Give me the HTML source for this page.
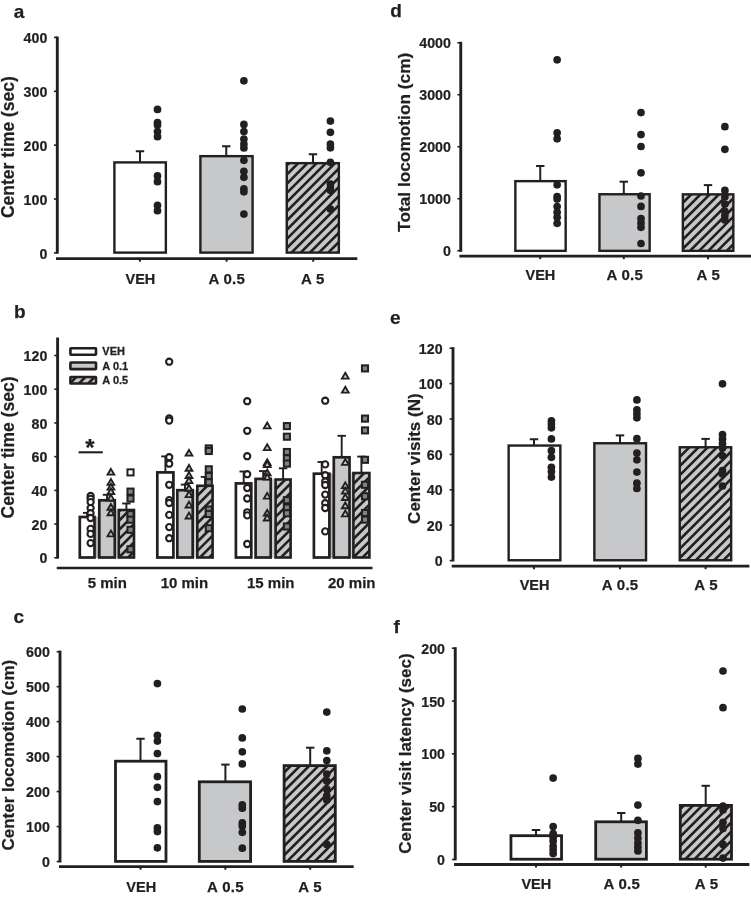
<!DOCTYPE html>
<html lang="en">
<head>
<meta charset="utf-8">
<title>Figure</title>
<style>
html,body{margin:0;padding:0;background:#fff;}
body{width:751px;height:897px;overflow:hidden;}
svg{display:block;}
svg text{font-family:'Liberation Sans', Arial, Helvetica, sans-serif;font-weight:bold;fill:#231f20;stroke:#231f20;stroke-width:0.25px;}
</style>
</head>
<body>
<svg width="751" height="897" viewBox="0 0 751 897">
<defs>
<clipPath id="k0"><rect x="286.75" y="163.15" width="52.1" height="89.45"/></clipPath>
<clipPath id="k1"><rect x="70.4" y="377" width="25.6" height="6.5"/></clipPath>
<clipPath id="k2"><rect x="118.8" y="510" width="15.2" height="47.5"/></clipPath>
<clipPath id="k3"><rect x="197.3" y="485.8" width="15.3" height="71.7"/></clipPath>
<clipPath id="k4"><rect x="275.6" y="479.5" width="15" height="78"/></clipPath>
<clipPath id="k5"><rect x="353.4" y="473" width="16" height="84.5"/></clipPath>
<clipPath id="k6"><rect x="284.1" y="765.6" width="51.2" height="95.8"/></clipPath>
<clipPath id="k7"><rect x="682.85" y="194.35" width="50.5" height="56.5"/></clipPath>
<clipPath id="k8"><rect x="679.75" y="447.25" width="51.4" height="113"/></clipPath>
<clipPath id="k9"><rect x="680.3" y="805.4" width="51.2" height="53.8"/></clipPath>
</defs>
<rect x="0" y="0" width="751" height="897" fill="#fff"/>
<text font-size="19" text-anchor="start" transform="translate(13.8 18.1) scale(1.0 1)">a</text>
<line x1="57.3" y1="36.6" x2="57.3" y2="253.6" stroke="#231f20" stroke-width="2.9" stroke-linecap="butt"/>
<line x1="53.95" y1="37.4" x2="57.3" y2="37.4" stroke="#231f20" stroke-width="1.6" stroke-linecap="butt"/>
<text font-size="15.3" text-anchor="end" transform="translate(47.3 43) scale(0.93 1)">400</text>
<line x1="53.95" y1="91.28" x2="57.3" y2="91.28" stroke="#231f20" stroke-width="1.6" stroke-linecap="butt"/>
<text font-size="15.3" text-anchor="end" transform="translate(47.3 96.88) scale(0.93 1)">300</text>
<line x1="53.95" y1="145.15" x2="57.3" y2="145.15" stroke="#231f20" stroke-width="1.6" stroke-linecap="butt"/>
<text font-size="15.3" text-anchor="end" transform="translate(47.3 150.75) scale(0.93 1)">200</text>
<line x1="53.95" y1="199.03" x2="57.3" y2="199.03" stroke="#231f20" stroke-width="1.6" stroke-linecap="butt"/>
<text font-size="15.3" text-anchor="end" transform="translate(47.3 204.62) scale(0.93 1)">100</text>
<line x1="53.95" y1="252.9" x2="57.3" y2="252.9" stroke="#231f20" stroke-width="1.6" stroke-linecap="butt"/>
<text font-size="15.3" text-anchor="end" transform="translate(47.3 258.5) scale(0.93 1)">0</text>
<line x1="56" y1="258.7" x2="357.3" y2="258.7" stroke="#231f20" stroke-width="2.8" stroke-linecap="butt"/>
<line x1="139.9" y1="258.7" x2="139.9" y2="261.75" stroke="#231f20" stroke-width="2" stroke-linecap="butt"/>
<line x1="226.6" y1="258.7" x2="226.6" y2="261.75" stroke="#231f20" stroke-width="2" stroke-linecap="butt"/>
<line x1="313.2" y1="258.7" x2="313.2" y2="261.75" stroke="#231f20" stroke-width="2" stroke-linecap="butt"/>
<text font-size="17.5" text-anchor="middle" transform="translate(14.2 147.1) rotate(-90) scale(1.0 1)">Center time (sec)</text>
<text font-size="15" text-anchor="middle" transform="translate(140.4 283.6) scale(0.965 1)">VEH</text>
<text font-size="15" text-anchor="middle" transform="translate(226.8 283.6) scale(1.0 1)" letter-spacing="0.3">A 0.5</text>
<text font-size="15" text-anchor="middle" transform="translate(312.8 283.6) scale(1.0 1)" letter-spacing="0.3">A 5</text>
<rect x="114.4" y="162.4" width="51.45" height="90.2" fill="#fff" stroke="#231f20" stroke-width="2.4"/>
<rect x="200.4" y="156.15" width="52.2" height="96.45" fill="#c7c8ca" stroke="#231f20" stroke-width="2.4"/>
<rect x="286.75" y="163.15" width="52.1" height="89.45" fill="#c7c8ca"/>
<path d="M284.55 167.66L341.05 111.16M284.55 176.85L341.05 120.35M284.55 186.04L341.05 129.54M284.55 195.23L341.05 138.73M284.55 204.42L341.05 147.92M284.55 213.61L341.05 157.11M284.55 222.8L341.05 166.3M284.55 231.99L341.05 175.49M284.55 241.18L341.05 184.68M284.55 250.37L341.05 193.87M284.55 259.56L341.05 203.06M284.55 268.75L341.05 212.25M284.55 277.94L341.05 221.44M284.55 287.13L341.05 230.63M284.55 296.32L341.05 239.82M284.55 305.51L341.05 249.01" stroke="#231f20" stroke-width="2.6" fill="none" clip-path="url(#k0)"/>
<rect x="286.75" y="163.15" width="52.1" height="89.45" fill="none" stroke="#231f20" stroke-width="2.4"/>
<line x1="140" y1="151.25" x2="140" y2="162.25" stroke="#231f20" stroke-width="2" stroke-linecap="butt"/>
<line x1="135.8" y1="151.25" x2="144.2" y2="151.25" stroke="#231f20" stroke-width="2" stroke-linecap="butt"/>
<line x1="226.25" y1="146.25" x2="226.25" y2="156" stroke="#231f20" stroke-width="2" stroke-linecap="butt"/>
<line x1="222.05" y1="146.25" x2="230.45" y2="146.25" stroke="#231f20" stroke-width="2" stroke-linecap="butt"/>
<line x1="313" y1="154.25" x2="313" y2="163" stroke="#231f20" stroke-width="2" stroke-linecap="butt"/>
<line x1="308.8" y1="154.25" x2="317.2" y2="154.25" stroke="#231f20" stroke-width="2" stroke-linecap="butt"/>
<circle cx="157.5" cy="109.4" r="3.85" fill="#231f20"/>
<circle cx="157.5" cy="122.6" r="3.85" fill="#231f20"/>
<circle cx="157.5" cy="125.1" r="3.85" fill="#231f20"/>
<circle cx="157.5" cy="131.6" r="3.85" fill="#231f20"/>
<circle cx="157.5" cy="136.7" r="3.85" fill="#231f20"/>
<circle cx="157.5" cy="175.9" r="3.85" fill="#231f20"/>
<circle cx="157.5" cy="181.7" r="3.85" fill="#231f20"/>
<circle cx="157.5" cy="205.3" r="3.85" fill="#231f20"/>
<circle cx="157.5" cy="210.7" r="3.85" fill="#231f20"/>
<circle cx="243.9" cy="80.8" r="3.85" fill="#231f20"/>
<circle cx="243.9" cy="124.4" r="3.85" fill="#231f20"/>
<circle cx="243.9" cy="131.5" r="3.85" fill="#231f20"/>
<circle cx="243.9" cy="139" r="3.85" fill="#231f20"/>
<circle cx="243.9" cy="144" r="3.85" fill="#231f20"/>
<circle cx="243.9" cy="148" r="3.85" fill="#231f20"/>
<circle cx="243.9" cy="160.3" r="3.85" fill="#231f20"/>
<circle cx="243.9" cy="171.3" r="3.85" fill="#231f20"/>
<circle cx="243.9" cy="177.3" r="3.85" fill="#231f20"/>
<circle cx="243.9" cy="188.8" r="3.85" fill="#231f20"/>
<circle cx="243.9" cy="191.8" r="3.85" fill="#231f20"/>
<circle cx="243.9" cy="214.05" r="3.85" fill="#231f20"/>
<circle cx="330.4" cy="121.05" r="3.85" fill="#231f20"/>
<circle cx="330.4" cy="132.3" r="3.85" fill="#231f20"/>
<circle cx="330.4" cy="144.05" r="3.85" fill="#231f20"/>
<circle cx="330.4" cy="147.8" r="3.85" fill="#231f20"/>
<circle cx="330.4" cy="162.3" r="3.85" fill="#231f20"/>
<circle cx="330.4" cy="184.05" r="3.85" fill="#231f20"/>
<circle cx="330.4" cy="187.8" r="3.85" fill="#231f20"/>
<circle cx="330.4" cy="190.3" r="3.85" fill="#231f20"/>
<circle cx="330.4" cy="209.05" r="3.85" fill="#231f20"/>
<text font-size="19" text-anchor="start" transform="translate(14 318) scale(1.0 1)">b</text>
<line x1="57.6" y1="337.5" x2="57.6" y2="558.6" stroke="#231f20" stroke-width="2.9" stroke-linecap="butt"/>
<line x1="54.25" y1="355.5" x2="57.6" y2="355.5" stroke="#231f20" stroke-width="1.6" stroke-linecap="butt"/>
<text font-size="15.3" text-anchor="end" transform="translate(47.3 361.1) scale(0.93 1)">120</text>
<line x1="54.25" y1="389.22" x2="57.6" y2="389.22" stroke="#231f20" stroke-width="1.6" stroke-linecap="butt"/>
<text font-size="15.3" text-anchor="end" transform="translate(47.3 394.82) scale(0.93 1)">100</text>
<line x1="54.25" y1="422.93" x2="57.6" y2="422.93" stroke="#231f20" stroke-width="1.6" stroke-linecap="butt"/>
<text font-size="15.3" text-anchor="end" transform="translate(47.3 428.53) scale(0.93 1)">80</text>
<line x1="54.25" y1="456.65" x2="57.6" y2="456.65" stroke="#231f20" stroke-width="1.6" stroke-linecap="butt"/>
<text font-size="15.3" text-anchor="end" transform="translate(47.3 462.25) scale(0.93 1)">60</text>
<line x1="54.25" y1="490.37" x2="57.6" y2="490.37" stroke="#231f20" stroke-width="1.6" stroke-linecap="butt"/>
<text font-size="15.3" text-anchor="end" transform="translate(47.3 495.97) scale(0.93 1)">40</text>
<line x1="54.25" y1="524.08" x2="57.6" y2="524.08" stroke="#231f20" stroke-width="1.6" stroke-linecap="butt"/>
<text font-size="15.3" text-anchor="end" transform="translate(47.3 529.68) scale(0.93 1)">20</text>
<line x1="54.25" y1="557.8" x2="57.6" y2="557.8" stroke="#231f20" stroke-width="1.6" stroke-linecap="butt"/>
<text font-size="15.3" text-anchor="end" transform="translate(47.3 563.4) scale(0.93 1)">0</text>
<line x1="56.7" y1="568.1" x2="372.5" y2="568.1" stroke="#231f20" stroke-width="2.5" stroke-linecap="butt"/>
<text font-size="17.5" text-anchor="middle" transform="translate(14.2 447.5) rotate(-90) scale(1.0 1)">Center time (sec)</text>
<text font-size="15" text-anchor="middle" transform="translate(107.25 588.3) scale(1.0 1)">5 min</text>
<text font-size="15" text-anchor="middle" transform="translate(184.4 588.3) scale(1.0 1)">10 min</text>
<text font-size="15" text-anchor="middle" transform="translate(270.75 588.3) scale(1.0 1)">15 min</text>
<text font-size="15" text-anchor="middle" transform="translate(351.75 588.3) scale(1.0 1)">20 min</text>
<rect x="70.4" y="348.2" width="25.6" height="6.5" rx="0.6" fill="#fff" stroke="#231f20" stroke-width="2.6" stroke-linejoin="round"/>
<rect x="70.4" y="362.5" width="25.6" height="6.6" rx="0.6" fill="#c7c8ca" stroke="#231f20" stroke-width="2.6" stroke-linejoin="round"/>
<rect x="70.4" y="377" width="25.6" height="6.5" fill="#c7c8ca"/>
<path d="M68.1 375.97L98.3 345.77M68.1 385.16L98.3 354.96M68.1 394.35L98.3 364.15M68.1 403.54L98.3 373.34M68.1 412.73L98.3 382.53" stroke="#231f20" stroke-width="2.6" fill="none" clip-path="url(#k1)"/>
<rect x="70.4" y="377" width="25.6" height="6.5" fill="none" stroke="#231f20" stroke-width="2.6" rx="0.6" stroke-linejoin="round"/>
<text font-size="10.3" text-anchor="start" transform="translate(102.3 354.9) scale(1.07 1)">VEH</text>
<text font-size="10.3" text-anchor="start" transform="translate(102.3 369.6) scale(1.07 1)">A 0.1</text>
<text font-size="10.3" text-anchor="start" transform="translate(102.3 383.9) scale(1.07 1)">A 0.5</text>
<text font-size="24" text-anchor="middle" transform="translate(90 456.3) scale(1.0 1)">*</text>
<line x1="78.6" y1="452.3" x2="102.8" y2="452.3" stroke="#231f20" stroke-width="2.1" stroke-linecap="butt"/>
<rect x="115" y="509.6" width="3.6" height="48.3" fill="#cfd0d2"/>
<rect x="94.7" y="516.6" width="4.4" height="41.3" fill="#b4b5b7"/>
<rect x="79.8" y="517" width="14.7" height="40.5" fill="#fff" stroke="#231f20" stroke-width="2.7"/>
<rect x="99.3" y="500.3" width="15.5" height="57.2" fill="#c7c8ca" stroke="#231f20" stroke-width="2.7"/>
<rect x="118.8" y="510" width="15.2" height="47.5" fill="#c7c8ca"/>
<path d="M116.5 513.92L136.3 494.12M116.5 523.11L136.3 503.31M116.5 532.3L136.3 512.5M116.5 541.49L136.3 521.69M116.5 550.68L136.3 530.88M116.5 559.87L136.3 540.07M116.5 569.06L136.3 549.26M116.5 578.25L136.3 558.45" stroke="#231f20" stroke-width="2.6" fill="none" clip-path="url(#k2)"/>
<rect x="118.8" y="510" width="15.2" height="47.5" fill="none" stroke="#231f20" stroke-width="2.6"/>
<line x1="87.1" y1="512.9" x2="87.1" y2="516.8" stroke="#231f20" stroke-width="1.9" stroke-linecap="butt"/>
<line x1="82.9" y1="512.9" x2="91.3" y2="512.9" stroke="#231f20" stroke-width="1.9" stroke-linecap="butt"/>
<line x1="107" y1="494.8" x2="107" y2="500.1" stroke="#231f20" stroke-width="1.9" stroke-linecap="butt"/>
<line x1="102.8" y1="494.8" x2="111.2" y2="494.8" stroke="#231f20" stroke-width="1.9" stroke-linecap="butt"/>
<line x1="126.4" y1="503.5" x2="126.4" y2="509.8" stroke="#231f20" stroke-width="1.9" stroke-linecap="butt"/>
<line x1="122.2" y1="503.5" x2="130.6" y2="503.5" stroke="#231f20" stroke-width="1.9" stroke-linecap="butt"/>
<circle cx="90.6" cy="496" r="3.1" fill="#fff" stroke="#231f20" stroke-width="2.1"/>
<circle cx="90.6" cy="498.8" r="3.1" fill="#fff" stroke="#231f20" stroke-width="2.1"/>
<circle cx="90.6" cy="502.1" r="3.1" fill="#fff" stroke="#231f20" stroke-width="2.1"/>
<circle cx="90.6" cy="508.1" r="3.1" fill="#fff" stroke="#231f20" stroke-width="2.1"/>
<circle cx="90.6" cy="513.2" r="3.1" fill="#fff" stroke="#231f20" stroke-width="2.1"/>
<circle cx="90.6" cy="518" r="3.1" fill="#fff" stroke="#231f20" stroke-width="2.1"/>
<circle cx="90.6" cy="528.9" r="3.1" fill="#fff" stroke="#231f20" stroke-width="2.1"/>
<circle cx="90.6" cy="533.9" r="3.1" fill="#fff" stroke="#231f20" stroke-width="2.1"/>
<circle cx="90.6" cy="543.1" r="3.1" fill="#fff" stroke="#231f20" stroke-width="2.1"/>
<path d="M110.9 468.84L114.29 474.68L107.51 474.68Z" fill="#c7c8ca" stroke="#231f20" stroke-width="1.85" stroke-linejoin="miter"/>
<path d="M110.9 479.04L114.29 484.88L107.51 484.88Z" fill="#c7c8ca" stroke="#231f20" stroke-width="1.85" stroke-linejoin="miter"/>
<path d="M110.9 483.74L114.29 489.57L107.51 489.57Z" fill="#c7c8ca" stroke="#231f20" stroke-width="1.85" stroke-linejoin="miter"/>
<path d="M110.9 488.34L114.29 494.18L107.51 494.18Z" fill="#c7c8ca" stroke="#231f20" stroke-width="1.85" stroke-linejoin="miter"/>
<path d="M110.9 494.64L114.29 500.48L107.51 500.48Z" fill="#c7c8ca" stroke="#231f20" stroke-width="1.85" stroke-linejoin="miter"/>
<path d="M110.9 503.94L114.29 509.77L107.51 509.77Z" fill="#c7c8ca" stroke="#231f20" stroke-width="1.85" stroke-linejoin="miter"/>
<path d="M110.9 509.44L114.29 515.27L107.51 515.27Z" fill="#c7c8ca" stroke="#231f20" stroke-width="1.85" stroke-linejoin="miter"/>
<path d="M110.9 530.54L114.29 536.38L107.51 536.38Z" fill="#c7c8ca" stroke="#231f20" stroke-width="1.85" stroke-linejoin="miter"/>
<rect x="127.45" y="469.35" width="6.1" height="6.1" fill="#fff" stroke="#231f20" stroke-width="2"/>
<rect x="127.45" y="488.55" width="6.1" height="6.1" fill="#808285" stroke="#231f20" stroke-width="2"/>
<rect x="127.45" y="495.55" width="6.1" height="6.1" fill="#808285" stroke="#231f20" stroke-width="2"/>
<rect x="127.45" y="511.15" width="6.1" height="6.1" fill="#808285" stroke="#231f20" stroke-width="2"/>
<rect x="127.45" y="516.65" width="6.1" height="6.1" fill="#808285" stroke="#231f20" stroke-width="2"/>
<rect x="127.45" y="526.75" width="6.1" height="6.1" fill="#808285" stroke="#231f20" stroke-width="2"/>
<rect x="127.45" y="546.25" width="6.1" height="6.1" fill="#808285" stroke="#231f20" stroke-width="2"/>
<rect x="192.9" y="489.8" width="4.2" height="68.1" fill="#cfd0d2"/>
<rect x="157.3" y="472.4" width="16.1" height="85.1" fill="#fff" stroke="#231f20" stroke-width="2.7"/>
<rect x="177.3" y="490.2" width="15.4" height="67.3" fill="#c7c8ca" stroke="#231f20" stroke-width="2.7"/>
<rect x="197.3" y="485.8" width="15.3" height="71.7" fill="#c7c8ca"/>
<path d="M195 488.91L214.9 469.01M195 498.1L214.9 478.2M195 507.29L214.9 487.39M195 516.48L214.9 496.58M195 525.67L214.9 505.77M195 534.86L214.9 514.96M195 544.05L214.9 524.15M195 553.24L214.9 533.34M195 562.43L214.9 542.53M195 571.62L214.9 551.72" stroke="#231f20" stroke-width="2.6" fill="none" clip-path="url(#k3)"/>
<rect x="197.3" y="485.8" width="15.3" height="71.7" fill="none" stroke="#231f20" stroke-width="2.6"/>
<line x1="165.4" y1="456.4" x2="165.4" y2="472.2" stroke="#231f20" stroke-width="1.9" stroke-linecap="butt"/>
<line x1="161.2" y1="456.4" x2="169.6" y2="456.4" stroke="#231f20" stroke-width="1.9" stroke-linecap="butt"/>
<line x1="185" y1="484.6" x2="185" y2="490" stroke="#231f20" stroke-width="1.9" stroke-linecap="butt"/>
<line x1="180.8" y1="484.6" x2="189.2" y2="484.6" stroke="#231f20" stroke-width="1.9" stroke-linecap="butt"/>
<line x1="205" y1="476.9" x2="205" y2="485.6" stroke="#231f20" stroke-width="1.9" stroke-linecap="butt"/>
<line x1="200.8" y1="476.9" x2="209.2" y2="476.9" stroke="#231f20" stroke-width="1.9" stroke-linecap="butt"/>
<circle cx="169.2" cy="361.7" r="3.1" fill="#fff" stroke="#231f20" stroke-width="2.1"/>
<circle cx="169.2" cy="418.5" r="3.1" fill="#fff" stroke="#231f20" stroke-width="2.1"/>
<circle cx="169.2" cy="420.6" r="3.1" fill="#fff" stroke="#231f20" stroke-width="2.1"/>
<circle cx="169.2" cy="457.2" r="3.1" fill="#fff" stroke="#231f20" stroke-width="2.1"/>
<circle cx="169.2" cy="463.7" r="3.1" fill="#fff" stroke="#231f20" stroke-width="2.1"/>
<circle cx="169.2" cy="484.8" r="3.1" fill="#fff" stroke="#231f20" stroke-width="2.1"/>
<circle cx="169.2" cy="500.1" r="3.1" fill="#fff" stroke="#231f20" stroke-width="2.1"/>
<circle cx="169.2" cy="503" r="3.1" fill="#fff" stroke="#231f20" stroke-width="2.1"/>
<circle cx="169.2" cy="514.9" r="3.1" fill="#fff" stroke="#231f20" stroke-width="2.1"/>
<circle cx="169.2" cy="527.1" r="3.1" fill="#fff" stroke="#231f20" stroke-width="2.1"/>
<circle cx="169.2" cy="538.2" r="3.1" fill="#fff" stroke="#231f20" stroke-width="2.1"/>
<path d="M189 449.84L192.39 455.68L185.61 455.68Z" fill="#c7c8ca" stroke="#231f20" stroke-width="1.85" stroke-linejoin="miter"/>
<path d="M189 464.94L192.39 470.77L185.61 470.77Z" fill="#c7c8ca" stroke="#231f20" stroke-width="1.85" stroke-linejoin="miter"/>
<path d="M189 472.14L192.39 477.98L185.61 477.98Z" fill="#c7c8ca" stroke="#231f20" stroke-width="1.85" stroke-linejoin="miter"/>
<path d="M189 477.24L192.39 483.07L185.61 483.07Z" fill="#c7c8ca" stroke="#231f20" stroke-width="1.85" stroke-linejoin="miter"/>
<path d="M189 484.94L192.39 490.77L185.61 490.77Z" fill="#c7c8ca" stroke="#231f20" stroke-width="1.85" stroke-linejoin="miter"/>
<path d="M189 491.34L192.39 497.18L185.61 497.18Z" fill="#c7c8ca" stroke="#231f20" stroke-width="1.85" stroke-linejoin="miter"/>
<path d="M189 501.64L192.39 507.48L185.61 507.48Z" fill="#c7c8ca" stroke="#231f20" stroke-width="1.85" stroke-linejoin="miter"/>
<path d="M189 512.64L192.39 518.48L185.61 518.48Z" fill="#c7c8ca" stroke="#231f20" stroke-width="1.85" stroke-linejoin="miter"/>
<rect x="205.75" y="445.35" width="6.1" height="6.1" fill="#808285" stroke="#231f20" stroke-width="2"/>
<rect x="205.75" y="447.95" width="6.1" height="6.1" fill="#808285" stroke="#231f20" stroke-width="2"/>
<rect x="205.75" y="466.25" width="6.1" height="6.1" fill="#808285" stroke="#231f20" stroke-width="2"/>
<rect x="205.75" y="473.05" width="6.1" height="6.1" fill="#808285" stroke="#231f20" stroke-width="2"/>
<rect x="205.75" y="479.25" width="6.1" height="6.1" fill="#808285" stroke="#231f20" stroke-width="2"/>
<rect x="205.75" y="506.45" width="6.1" height="6.1" fill="#808285" stroke="#231f20" stroke-width="2"/>
<rect x="205.75" y="510.95" width="6.1" height="6.1" fill="#808285" stroke="#231f20" stroke-width="2"/>
<rect x="205.75" y="525.15" width="6.1" height="6.1" fill="#808285" stroke="#231f20" stroke-width="2"/>
<rect x="270.9" y="479.1" width="4.5" height="78.8" fill="#cfd0d2"/>
<rect x="235.9" y="483.4" width="15.4" height="74.1" fill="#fff" stroke="#231f20" stroke-width="2.7"/>
<rect x="255.6" y="478.9" width="15.1" height="78.6" fill="#c7c8ca" stroke="#231f20" stroke-width="2.7"/>
<rect x="275.6" y="479.5" width="15" height="78" fill="#c7c8ca"/>
<path d="M273.3 482.43L292.9 462.83M273.3 491.62L292.9 472.02M273.3 500.81L292.9 481.21M273.3 510L292.9 490.4M273.3 519.19L292.9 499.59M273.3 528.38L292.9 508.78M273.3 537.57L292.9 517.97M273.3 546.76L292.9 527.16M273.3 555.95L292.9 536.35M273.3 565.14L292.9 545.54M273.3 574.33L292.9 554.73" stroke="#231f20" stroke-width="2.6" fill="none" clip-path="url(#k4)"/>
<rect x="275.6" y="479.5" width="15" height="78" fill="none" stroke="#231f20" stroke-width="2.6"/>
<line x1="243.7" y1="471.5" x2="243.7" y2="483.2" stroke="#231f20" stroke-width="1.9" stroke-linecap="butt"/>
<line x1="239.5" y1="471.5" x2="247.9" y2="471.5" stroke="#231f20" stroke-width="1.9" stroke-linecap="butt"/>
<line x1="263.2" y1="471.1" x2="263.2" y2="478.7" stroke="#231f20" stroke-width="1.9" stroke-linecap="butt"/>
<line x1="259" y1="471.1" x2="267.4" y2="471.1" stroke="#231f20" stroke-width="1.9" stroke-linecap="butt"/>
<line x1="283.1" y1="468.3" x2="283.1" y2="479.3" stroke="#231f20" stroke-width="1.9" stroke-linecap="butt"/>
<line x1="278.9" y1="468.3" x2="287.3" y2="468.3" stroke="#231f20" stroke-width="1.9" stroke-linecap="butt"/>
<circle cx="247.2" cy="401.2" r="3.1" fill="#fff" stroke="#231f20" stroke-width="2.1"/>
<circle cx="247.2" cy="430.8" r="3.1" fill="#fff" stroke="#231f20" stroke-width="2.1"/>
<circle cx="247.2" cy="456.2" r="3.1" fill="#fff" stroke="#231f20" stroke-width="2.1"/>
<circle cx="247.2" cy="474.2" r="3.1" fill="#fff" stroke="#231f20" stroke-width="2.1"/>
<circle cx="247.2" cy="488" r="3.1" fill="#fff" stroke="#231f20" stroke-width="2.1"/>
<circle cx="247.2" cy="498.5" r="3.1" fill="#fff" stroke="#231f20" stroke-width="2.1"/>
<circle cx="247.2" cy="512.3" r="3.1" fill="#fff" stroke="#231f20" stroke-width="2.1"/>
<circle cx="247.2" cy="515.4" r="3.1" fill="#fff" stroke="#231f20" stroke-width="2.1"/>
<circle cx="247.2" cy="544" r="3.1" fill="#fff" stroke="#231f20" stroke-width="2.1"/>
<path d="M267.2 422.54L270.59 428.38L263.81 428.38Z" fill="#c7c8ca" stroke="#231f20" stroke-width="1.85" stroke-linejoin="miter"/>
<path d="M267.2 444.24L270.59 450.07L263.81 450.07Z" fill="#c7c8ca" stroke="#231f20" stroke-width="1.85" stroke-linejoin="miter"/>
<path d="M267.2 459.24L270.59 465.07L263.81 465.07Z" fill="#c7c8ca" stroke="#231f20" stroke-width="1.85" stroke-linejoin="miter"/>
<path d="M267.2 461.14L270.59 466.98L263.81 466.98Z" fill="#c7c8ca" stroke="#231f20" stroke-width="1.85" stroke-linejoin="miter"/>
<path d="M267.2 469.54L270.59 475.38L263.81 475.38Z" fill="#c7c8ca" stroke="#231f20" stroke-width="1.85" stroke-linejoin="miter"/>
<path d="M267.2 473.84L270.59 479.68L263.81 479.68Z" fill="#c7c8ca" stroke="#231f20" stroke-width="1.85" stroke-linejoin="miter"/>
<path d="M267.2 492.84L270.59 498.68L263.81 498.68Z" fill="#c7c8ca" stroke="#231f20" stroke-width="1.85" stroke-linejoin="miter"/>
<path d="M267.2 509.84L270.59 515.67L263.81 515.67Z" fill="#c7c8ca" stroke="#231f20" stroke-width="1.85" stroke-linejoin="miter"/>
<path d="M267.2 514.64L270.59 520.48L263.81 520.48Z" fill="#c7c8ca" stroke="#231f20" stroke-width="1.85" stroke-linejoin="miter"/>
<rect x="283.85" y="423.05" width="6.1" height="6.1" fill="#808285" stroke="#231f20" stroke-width="2"/>
<rect x="283.85" y="433.65" width="6.1" height="6.1" fill="#808285" stroke="#231f20" stroke-width="2"/>
<rect x="283.85" y="448.95" width="6.1" height="6.1" fill="#808285" stroke="#231f20" stroke-width="2"/>
<rect x="283.85" y="455.25" width="6.1" height="6.1" fill="#808285" stroke="#231f20" stroke-width="2"/>
<rect x="283.85" y="460.55" width="6.1" height="6.1" fill="#808285" stroke="#231f20" stroke-width="2"/>
<rect x="283.85" y="497.15" width="6.1" height="6.1" fill="#808285" stroke="#231f20" stroke-width="2"/>
<rect x="283.85" y="504.55" width="6.1" height="6.1" fill="#808285" stroke="#231f20" stroke-width="2"/>
<rect x="283.85" y="510.25" width="6.1" height="6.1" fill="#808285" stroke="#231f20" stroke-width="2"/>
<rect x="283.85" y="523.45" width="6.1" height="6.1" fill="#808285" stroke="#231f20" stroke-width="2"/>
<rect x="349.7" y="472.6" width="3.5" height="85.3" fill="#cfd0d2"/>
<rect x="329.6" y="473.3" width="4" height="84.6" fill="#b4b5b7"/>
<rect x="313.9" y="473.7" width="15.5" height="83.8" fill="#fff" stroke="#231f20" stroke-width="2.7"/>
<rect x="333.8" y="457.3" width="15.7" height="100.2" fill="#c7c8ca" stroke="#231f20" stroke-width="2.7"/>
<rect x="353.4" y="473" width="16" height="84.5" fill="#c7c8ca"/>
<path d="M351.1 477L371.7 456.4M351.1 486.19L371.7 465.59M351.1 495.38L371.7 474.78M351.1 504.57L371.7 483.97M351.1 513.76L371.7 493.16M351.1 522.95L371.7 502.35M351.1 532.14L371.7 511.54M351.1 541.33L371.7 520.73M351.1 550.52L371.7 529.92M351.1 559.71L371.7 539.11M351.1 568.9L371.7 548.3M351.1 578.09L371.7 557.49" stroke="#231f20" stroke-width="2.6" fill="none" clip-path="url(#k5)"/>
<rect x="353.4" y="473" width="16" height="84.5" fill="none" stroke="#231f20" stroke-width="2.6"/>
<line x1="321.7" y1="462" x2="321.7" y2="473.5" stroke="#231f20" stroke-width="1.9" stroke-linecap="butt"/>
<line x1="317.5" y1="462" x2="325.9" y2="462" stroke="#231f20" stroke-width="1.9" stroke-linecap="butt"/>
<line x1="341.7" y1="435.8" x2="341.7" y2="457.1" stroke="#231f20" stroke-width="1.9" stroke-linecap="butt"/>
<line x1="337.5" y1="435.8" x2="345.9" y2="435.8" stroke="#231f20" stroke-width="1.9" stroke-linecap="butt"/>
<line x1="361.4" y1="456.6" x2="361.4" y2="472.8" stroke="#231f20" stroke-width="1.9" stroke-linecap="butt"/>
<line x1="357.2" y1="456.6" x2="365.6" y2="456.6" stroke="#231f20" stroke-width="1.9" stroke-linecap="butt"/>
<circle cx="325.2" cy="400.7" r="3.1" fill="#fff" stroke="#231f20" stroke-width="2.1"/>
<circle cx="325.2" cy="464.4" r="3.1" fill="#fff" stroke="#231f20" stroke-width="2.1"/>
<circle cx="325.2" cy="475.2" r="3.1" fill="#fff" stroke="#231f20" stroke-width="2.1"/>
<circle cx="325.2" cy="481.5" r="3.1" fill="#fff" stroke="#231f20" stroke-width="2.1"/>
<circle cx="325.2" cy="485" r="3.1" fill="#fff" stroke="#231f20" stroke-width="2.1"/>
<circle cx="325.2" cy="494.6" r="3.1" fill="#fff" stroke="#231f20" stroke-width="2.1"/>
<circle cx="325.2" cy="503.2" r="3.1" fill="#fff" stroke="#231f20" stroke-width="2.1"/>
<circle cx="325.2" cy="508" r="3.1" fill="#fff" stroke="#231f20" stroke-width="2.1"/>
<circle cx="325.2" cy="531.4" r="3.1" fill="#fff" stroke="#231f20" stroke-width="2.1"/>
<path d="M345.3 372.74L348.69 378.57L341.91 378.57Z" fill="#c7c8ca" stroke="#231f20" stroke-width="1.85" stroke-linejoin="miter"/>
<path d="M345.3 386.74L348.69 392.57L341.91 392.57Z" fill="#c7c8ca" stroke="#231f20" stroke-width="1.85" stroke-linejoin="miter"/>
<path d="M345.3 459.04L348.69 464.88L341.91 464.88Z" fill="#c7c8ca" stroke="#231f20" stroke-width="1.85" stroke-linejoin="miter"/>
<path d="M345.3 482.34L348.69 488.18L341.91 488.18Z" fill="#c7c8ca" stroke="#231f20" stroke-width="1.85" stroke-linejoin="miter"/>
<path d="M345.3 487.74L348.69 493.57L341.91 493.57Z" fill="#c7c8ca" stroke="#231f20" stroke-width="1.85" stroke-linejoin="miter"/>
<path d="M345.3 494.14L348.69 499.98L341.91 499.98Z" fill="#c7c8ca" stroke="#231f20" stroke-width="1.85" stroke-linejoin="miter"/>
<path d="M345.3 502.44L348.69 508.27L341.91 508.27Z" fill="#c7c8ca" stroke="#231f20" stroke-width="1.85" stroke-linejoin="miter"/>
<path d="M345.3 510.54L348.69 516.38L341.91 516.38Z" fill="#c7c8ca" stroke="#231f20" stroke-width="1.85" stroke-linejoin="miter"/>
<rect x="361.95" y="365.35" width="6.1" height="6.1" fill="#808285" stroke="#231f20" stroke-width="2"/>
<rect x="361.95" y="415.55" width="6.1" height="6.1" fill="#808285" stroke="#231f20" stroke-width="2"/>
<rect x="361.95" y="427.35" width="6.1" height="6.1" fill="#808285" stroke="#231f20" stroke-width="2"/>
<rect x="361.95" y="456.75" width="6.1" height="6.1" fill="#808285" stroke="#231f20" stroke-width="2"/>
<rect x="361.95" y="481.75" width="6.1" height="6.1" fill="#808285" stroke="#231f20" stroke-width="2"/>
<rect x="361.95" y="493.25" width="6.1" height="6.1" fill="#808285" stroke="#231f20" stroke-width="2"/>
<rect x="361.95" y="509.95" width="6.1" height="6.1" fill="#808285" stroke="#231f20" stroke-width="2"/>
<rect x="361.95" y="516.55" width="6.1" height="6.1" fill="#808285" stroke="#231f20" stroke-width="2"/>
<text font-size="19" text-anchor="start" transform="translate(13.6 622.5) scale(1.0 1)">c</text>
<line x1="60" y1="650.6" x2="60" y2="862.5" stroke="#231f20" stroke-width="2.9" stroke-linecap="butt"/>
<line x1="56.65" y1="651.7" x2="60" y2="651.7" stroke="#231f20" stroke-width="1.6" stroke-linecap="butt"/>
<text font-size="15.3" text-anchor="end" transform="translate(49.8 657.3) scale(0.93 1)">600</text>
<line x1="56.65" y1="686.67" x2="60" y2="686.67" stroke="#231f20" stroke-width="1.6" stroke-linecap="butt"/>
<text font-size="15.3" text-anchor="end" transform="translate(49.8 692.27) scale(0.93 1)">500</text>
<line x1="56.65" y1="721.63" x2="60" y2="721.63" stroke="#231f20" stroke-width="1.6" stroke-linecap="butt"/>
<text font-size="15.3" text-anchor="end" transform="translate(49.8 727.23) scale(0.93 1)">400</text>
<line x1="56.65" y1="756.6" x2="60" y2="756.6" stroke="#231f20" stroke-width="1.6" stroke-linecap="butt"/>
<text font-size="15.3" text-anchor="end" transform="translate(49.8 762.2) scale(0.93 1)">300</text>
<line x1="56.65" y1="791.57" x2="60" y2="791.57" stroke="#231f20" stroke-width="1.6" stroke-linecap="butt"/>
<text font-size="15.3" text-anchor="end" transform="translate(49.8 797.17) scale(0.93 1)">200</text>
<line x1="56.65" y1="826.53" x2="60" y2="826.53" stroke="#231f20" stroke-width="1.6" stroke-linecap="butt"/>
<text font-size="15.3" text-anchor="end" transform="translate(49.8 832.13) scale(0.93 1)">100</text>
<line x1="56.65" y1="861.5" x2="60" y2="861.5" stroke="#231f20" stroke-width="1.6" stroke-linecap="butt"/>
<text font-size="15.3" text-anchor="end" transform="translate(49.8 867.1) scale(0.93 1)">0</text>
<line x1="59" y1="866.7" x2="353.7" y2="866.7" stroke="#231f20" stroke-width="2.8" stroke-linecap="butt"/>
<line x1="140.5" y1="866.7" x2="140.5" y2="869.75" stroke="#231f20" stroke-width="2" stroke-linecap="butt"/>
<line x1="225.4" y1="866.7" x2="225.4" y2="869.75" stroke="#231f20" stroke-width="2" stroke-linecap="butt"/>
<line x1="310.2" y1="866.7" x2="310.2" y2="869.75" stroke="#231f20" stroke-width="2" stroke-linecap="butt"/>
<text font-size="17" text-anchor="middle" transform="translate(14.2 755.2) rotate(-90) scale(1.0 1)">Center locomotion (cm)</text>
<text font-size="15" text-anchor="middle" transform="translate(141.2 891.6) scale(0.965 1)">VEH</text>
<text font-size="15" text-anchor="middle" transform="translate(225.5 891.6) scale(1.0 1)" letter-spacing="0.3">A 0.5</text>
<text font-size="15" text-anchor="middle" transform="translate(310 891.6) scale(1.0 1)" letter-spacing="0.3">A 5</text>
<rect x="115.5" y="761.2" width="50.5" height="100.2" fill="#fff" stroke="#231f20" stroke-width="2.8"/>
<rect x="199.3" y="781.8" width="51.3" height="79.6" fill="#c7c8ca" stroke="#231f20" stroke-width="2.8"/>
<rect x="284.1" y="765.6" width="51.2" height="95.8" fill="#c7c8ca"/>
<path d="M281.7 765.77L337.7 709.77M281.7 774.96L337.7 718.96M281.7 784.15L337.7 728.15M281.7 793.34L337.7 737.34M281.7 802.53L337.7 746.53M281.7 811.72L337.7 755.72M281.7 820.91L337.7 764.91M281.7 830.1L337.7 774.1M281.7 839.29L337.7 783.29M281.7 848.48L337.7 792.48M281.7 857.67L337.7 801.67M281.7 866.86L337.7 810.86M281.7 876.05L337.7 820.05M281.7 885.24L337.7 829.24M281.7 894.43L337.7 838.43M281.7 903.62L337.7 847.62M281.7 912.81L337.7 856.81" stroke="#231f20" stroke-width="2.6" fill="none" clip-path="url(#k6)"/>
<rect x="284.1" y="765.6" width="51.2" height="95.8" fill="none" stroke="#231f20" stroke-width="2.8"/>
<line x1="140.5" y1="738.75" x2="140.5" y2="761" stroke="#231f20" stroke-width="2" stroke-linecap="butt"/>
<line x1="136.3" y1="738.75" x2="144.7" y2="738.75" stroke="#231f20" stroke-width="2" stroke-linecap="butt"/>
<line x1="225.4" y1="764.6" x2="225.4" y2="781.6" stroke="#231f20" stroke-width="2" stroke-linecap="butt"/>
<line x1="221.2" y1="764.6" x2="229.6" y2="764.6" stroke="#231f20" stroke-width="2" stroke-linecap="butt"/>
<line x1="310.2" y1="747.7" x2="310.2" y2="765.4" stroke="#231f20" stroke-width="2" stroke-linecap="butt"/>
<line x1="306" y1="747.7" x2="314.4" y2="747.7" stroke="#231f20" stroke-width="2" stroke-linecap="butt"/>
<circle cx="157.4" cy="683.55" r="3.85" fill="#231f20"/>
<circle cx="157.4" cy="735.3" r="3.85" fill="#231f20"/>
<circle cx="157.4" cy="741.05" r="3.85" fill="#231f20"/>
<circle cx="157.4" cy="753.55" r="3.85" fill="#231f20"/>
<circle cx="157.4" cy="776.55" r="3.85" fill="#231f20"/>
<circle cx="157.4" cy="787.3" r="3.85" fill="#231f20"/>
<circle cx="157.4" cy="801.55" r="3.85" fill="#231f20"/>
<circle cx="157.4" cy="827.8" r="3.85" fill="#231f20"/>
<circle cx="157.4" cy="831.55" r="3.85" fill="#231f20"/>
<circle cx="157.4" cy="847.8" r="3.85" fill="#231f20"/>
<circle cx="242.3" cy="709" r="3.85" fill="#231f20"/>
<circle cx="242.3" cy="737.9" r="3.85" fill="#231f20"/>
<circle cx="242.3" cy="751.8" r="3.85" fill="#231f20"/>
<circle cx="242.3" cy="763.9" r="3.85" fill="#231f20"/>
<circle cx="242.3" cy="804.9" r="3.85" fill="#231f20"/>
<circle cx="242.3" cy="808.2" r="3.85" fill="#231f20"/>
<circle cx="242.3" cy="822.9" r="3.85" fill="#231f20"/>
<circle cx="242.3" cy="825.9" r="3.85" fill="#231f20"/>
<circle cx="242.3" cy="832.3" r="3.85" fill="#231f20"/>
<circle cx="242.3" cy="848.2" r="3.85" fill="#231f20"/>
<circle cx="326.8" cy="712.1" r="3.85" fill="#231f20"/>
<circle cx="326.8" cy="750.8" r="3.85" fill="#231f20"/>
<circle cx="326.8" cy="760.6" r="3.85" fill="#231f20"/>
<circle cx="326.8" cy="774" r="3.85" fill="#231f20"/>
<circle cx="326.8" cy="780.9" r="3.85" fill="#231f20"/>
<circle cx="326.8" cy="789.2" r="3.85" fill="#231f20"/>
<circle cx="326.8" cy="795.6" r="3.85" fill="#231f20"/>
<circle cx="326.8" cy="799.9" r="3.85" fill="#231f20"/>
<circle cx="326.8" cy="844.4" r="3.85" fill="#231f20"/>
<text font-size="19" text-anchor="start" transform="translate(390.2 17) scale(1.0 1)">d</text>
<line x1="460.75" y1="41.8" x2="460.75" y2="251.8" stroke="#231f20" stroke-width="2.9" stroke-linecap="butt"/>
<line x1="457.4" y1="42.75" x2="460.75" y2="42.75" stroke="#231f20" stroke-width="1.6" stroke-linecap="butt"/>
<text font-size="15.3" text-anchor="end" transform="translate(450.9 48.35) scale(0.93 1)">4000</text>
<line x1="457.4" y1="94.75" x2="460.75" y2="94.75" stroke="#231f20" stroke-width="1.6" stroke-linecap="butt"/>
<text font-size="15.3" text-anchor="end" transform="translate(450.9 100.35) scale(0.93 1)">3000</text>
<line x1="457.4" y1="146.75" x2="460.75" y2="146.75" stroke="#231f20" stroke-width="1.6" stroke-linecap="butt"/>
<text font-size="15.3" text-anchor="end" transform="translate(450.9 152.35) scale(0.93 1)">2000</text>
<line x1="457.4" y1="198.75" x2="460.75" y2="198.75" stroke="#231f20" stroke-width="1.6" stroke-linecap="butt"/>
<text font-size="15.3" text-anchor="end" transform="translate(450.9 204.35) scale(0.93 1)">1000</text>
<line x1="457.4" y1="250.75" x2="460.75" y2="250.75" stroke="#231f20" stroke-width="1.6" stroke-linecap="butt"/>
<text font-size="15.3" text-anchor="end" transform="translate(450.9 256.35) scale(0.93 1)">0</text>
<line x1="459.4" y1="256.1" x2="751" y2="256.1" stroke="#231f20" stroke-width="2.8" stroke-linecap="butt"/>
<line x1="540.25" y1="256.1" x2="540.25" y2="259.15" stroke="#231f20" stroke-width="2" stroke-linecap="butt"/>
<line x1="623.8" y1="256.1" x2="623.8" y2="259.15" stroke="#231f20" stroke-width="2" stroke-linecap="butt"/>
<line x1="708" y1="256.1" x2="708" y2="259.15" stroke="#231f20" stroke-width="2" stroke-linecap="butt"/>
<text font-size="17.3" text-anchor="middle" transform="translate(410.4 142.3) rotate(-90) scale(1.0 1)">Total locomotion (cm)</text>
<text font-size="15" text-anchor="middle" transform="translate(540.4 280) scale(0.965 1)">VEH</text>
<text font-size="15" text-anchor="middle" transform="translate(624.8 280) scale(1.0 1)" letter-spacing="0.3">A 0.5</text>
<text font-size="15" text-anchor="middle" transform="translate(708.4 280) scale(1.0 1)" letter-spacing="0.3">A 5</text>
<rect x="515.35" y="181.15" width="50.3" height="69.7" fill="#fff" stroke="#231f20" stroke-width="2.4"/>
<rect x="599.45" y="194.25" width="50.2" height="56.6" fill="#c7c8ca" stroke="#231f20" stroke-width="2.4"/>
<rect x="682.85" y="194.35" width="50.5" height="56.5" fill="#c7c8ca"/>
<path d="M680.65 195.85L735.55 140.95M680.65 205.04L735.55 150.14M680.65 214.23L735.55 159.33M680.65 223.42L735.55 168.52M680.65 232.61L735.55 177.71M680.65 241.8L735.55 186.9M680.65 250.99L735.55 196.09M680.65 260.18L735.55 205.28M680.65 269.37L735.55 214.47M680.65 278.56L735.55 223.66M680.65 287.75L735.55 232.85M680.65 296.94L735.55 242.04M680.65 306.13L735.55 251.23" stroke="#231f20" stroke-width="2.6" fill="none" clip-path="url(#k7)"/>
<rect x="682.85" y="194.35" width="50.5" height="56.5" fill="none" stroke="#231f20" stroke-width="2.4"/>
<line x1="540.25" y1="166" x2="540.25" y2="181" stroke="#231f20" stroke-width="2" stroke-linecap="butt"/>
<line x1="536.05" y1="166" x2="544.45" y2="166" stroke="#231f20" stroke-width="2" stroke-linecap="butt"/>
<line x1="623.8" y1="181.7" x2="623.8" y2="194.1" stroke="#231f20" stroke-width="2" stroke-linecap="butt"/>
<line x1="619.6" y1="181.7" x2="628" y2="181.7" stroke="#231f20" stroke-width="2" stroke-linecap="butt"/>
<line x1="708" y1="185.1" x2="708" y2="194.2" stroke="#231f20" stroke-width="2" stroke-linecap="butt"/>
<line x1="703.8" y1="185.1" x2="712.2" y2="185.1" stroke="#231f20" stroke-width="2" stroke-linecap="butt"/>
<circle cx="557.15" cy="59.8" r="3.85" fill="#231f20"/>
<circle cx="557.15" cy="132.8" r="3.85" fill="#231f20"/>
<circle cx="557.15" cy="138.8" r="3.85" fill="#231f20"/>
<circle cx="557.15" cy="184.8" r="3.85" fill="#231f20"/>
<circle cx="557.15" cy="196.55" r="3.85" fill="#231f20"/>
<circle cx="557.15" cy="199.05" r="3.85" fill="#231f20"/>
<circle cx="557.15" cy="206.55" r="3.85" fill="#231f20"/>
<circle cx="557.15" cy="212.3" r="3.85" fill="#231f20"/>
<circle cx="557.15" cy="217.3" r="3.85" fill="#231f20"/>
<circle cx="557.15" cy="223.3" r="3.85" fill="#231f20"/>
<circle cx="641" cy="112.6" r="3.85" fill="#231f20"/>
<circle cx="641" cy="134.6" r="3.85" fill="#231f20"/>
<circle cx="641" cy="146.5" r="3.85" fill="#231f20"/>
<circle cx="641" cy="172.8" r="3.85" fill="#231f20"/>
<circle cx="641" cy="196" r="3.85" fill="#231f20"/>
<circle cx="641" cy="206.4" r="3.85" fill="#231f20"/>
<circle cx="641" cy="218.6" r="3.85" fill="#231f20"/>
<circle cx="641" cy="222.9" r="3.85" fill="#231f20"/>
<circle cx="641" cy="227.3" r="3.85" fill="#231f20"/>
<circle cx="641" cy="243.5" r="3.85" fill="#231f20"/>
<circle cx="724.9" cy="126.7" r="3.85" fill="#231f20"/>
<circle cx="724.9" cy="149.3" r="3.85" fill="#231f20"/>
<circle cx="724.9" cy="190.4" r="3.85" fill="#231f20"/>
<circle cx="724.9" cy="196.8" r="3.85" fill="#231f20"/>
<circle cx="724.9" cy="204.1" r="3.85" fill="#231f20"/>
<circle cx="724.9" cy="211.4" r="3.85" fill="#231f20"/>
<circle cx="724.9" cy="215.7" r="3.85" fill="#231f20"/>
<circle cx="724.9" cy="220" r="3.85" fill="#231f20"/>
<text font-size="19" text-anchor="start" transform="translate(389.9 323.7) scale(1.0 1)">e</text>
<line x1="453" y1="347.2" x2="453" y2="561.4" stroke="#231f20" stroke-width="2.9" stroke-linecap="butt"/>
<line x1="449.65" y1="348.2" x2="453" y2="348.2" stroke="#231f20" stroke-width="1.6" stroke-linecap="butt"/>
<text font-size="15.3" text-anchor="end" transform="translate(442.6 353.8) scale(0.93 1)">120</text>
<line x1="449.65" y1="383.6" x2="453" y2="383.6" stroke="#231f20" stroke-width="1.6" stroke-linecap="butt"/>
<text font-size="15.3" text-anchor="end" transform="translate(442.6 389.2) scale(0.93 1)">100</text>
<line x1="449.65" y1="419" x2="453" y2="419" stroke="#231f20" stroke-width="1.6" stroke-linecap="butt"/>
<text font-size="15.3" text-anchor="end" transform="translate(442.6 424.6) scale(0.93 1)">80</text>
<line x1="449.65" y1="454.4" x2="453" y2="454.4" stroke="#231f20" stroke-width="1.6" stroke-linecap="butt"/>
<text font-size="15.3" text-anchor="end" transform="translate(442.6 460) scale(0.93 1)">60</text>
<line x1="449.65" y1="489.8" x2="453" y2="489.8" stroke="#231f20" stroke-width="1.6" stroke-linecap="butt"/>
<text font-size="15.3" text-anchor="end" transform="translate(442.6 495.4) scale(0.93 1)">40</text>
<line x1="449.65" y1="525.2" x2="453" y2="525.2" stroke="#231f20" stroke-width="1.6" stroke-linecap="butt"/>
<text font-size="15.3" text-anchor="end" transform="translate(442.6 530.8) scale(0.93 1)">20</text>
<line x1="449.65" y1="560.6" x2="453" y2="560.6" stroke="#231f20" stroke-width="1.6" stroke-linecap="butt"/>
<text font-size="15.3" text-anchor="end" transform="translate(442.6 566.2) scale(0.93 1)">0</text>
<line x1="451.7" y1="566.1" x2="749.4" y2="566.1" stroke="#231f20" stroke-width="2.8" stroke-linecap="butt"/>
<line x1="534" y1="566.1" x2="534" y2="569.15" stroke="#231f20" stroke-width="2" stroke-linecap="butt"/>
<line x1="620" y1="566.1" x2="620" y2="569.15" stroke="#231f20" stroke-width="2" stroke-linecap="butt"/>
<line x1="705.6" y1="566.1" x2="705.6" y2="569.15" stroke="#231f20" stroke-width="2" stroke-linecap="butt"/>
<text font-size="17.05" text-anchor="middle" transform="translate(419.7 458.6) rotate(-90) scale(1.0 1)">Center visits (N)</text>
<text font-size="15" text-anchor="middle" transform="translate(534.5 590.2) scale(0.965 1)">VEH</text>
<text font-size="15" text-anchor="middle" transform="translate(620.1 590.2) scale(1.0 1)" letter-spacing="0.3">A 0.5</text>
<text font-size="15" text-anchor="middle" transform="translate(706 590.2) scale(1.0 1)" letter-spacing="0.3">A 5</text>
<rect x="508.65" y="445.55" width="51.7" height="114.7" fill="#fff" stroke="#231f20" stroke-width="2.4"/>
<rect x="594.35" y="443.25" width="51.7" height="117" fill="#c7c8ca" stroke="#231f20" stroke-width="2.4"/>
<rect x="679.75" y="447.25" width="51.4" height="113" fill="#c7c8ca"/>
<path d="M677.55 449.88L733.35 394.08M677.55 459.07L733.35 403.27M677.55 468.26L733.35 412.46M677.55 477.45L733.35 421.65M677.55 486.64L733.35 430.84M677.55 495.83L733.35 440.03M677.55 505.02L733.35 449.22M677.55 514.21L733.35 458.41M677.55 523.4L733.35 467.6M677.55 532.59L733.35 476.79M677.55 541.78L733.35 485.98M677.55 550.97L733.35 495.17M677.55 560.16L733.35 504.36M677.55 569.35L733.35 513.55M677.55 578.54L733.35 522.74M677.55 587.73L733.35 531.93M677.55 596.92L733.35 541.12M677.55 606.11L733.35 550.31M677.55 615.3L733.35 559.5" stroke="#231f20" stroke-width="2.6" fill="none" clip-path="url(#k8)"/>
<rect x="679.75" y="447.25" width="51.4" height="113" fill="none" stroke="#231f20" stroke-width="2.4"/>
<line x1="534" y1="439.25" x2="534" y2="445.4" stroke="#231f20" stroke-width="2" stroke-linecap="butt"/>
<line x1="529.8" y1="439.25" x2="538.2" y2="439.25" stroke="#231f20" stroke-width="2" stroke-linecap="butt"/>
<line x1="620" y1="435.4" x2="620" y2="443.1" stroke="#231f20" stroke-width="2" stroke-linecap="butt"/>
<line x1="615.8" y1="435.4" x2="624.2" y2="435.4" stroke="#231f20" stroke-width="2" stroke-linecap="butt"/>
<line x1="705.6" y1="438.9" x2="705.6" y2="447.1" stroke="#231f20" stroke-width="2" stroke-linecap="butt"/>
<line x1="701.4" y1="438.9" x2="709.8" y2="438.9" stroke="#231f20" stroke-width="2" stroke-linecap="butt"/>
<circle cx="551.4" cy="420.8" r="3.85" fill="#231f20"/>
<circle cx="551.4" cy="424.05" r="3.85" fill="#231f20"/>
<circle cx="551.4" cy="427.8" r="3.85" fill="#231f20"/>
<circle cx="551.4" cy="438.9" r="3.85" fill="#231f20"/>
<circle cx="551.4" cy="450.7" r="3.85" fill="#231f20"/>
<circle cx="551.4" cy="457.3" r="3.85" fill="#231f20"/>
<circle cx="551.4" cy="467.3" r="3.85" fill="#231f20"/>
<circle cx="551.4" cy="471.55" r="3.85" fill="#231f20"/>
<circle cx="551.4" cy="477.05" r="3.85" fill="#231f20"/>
<circle cx="636.9" cy="399.9" r="3.85" fill="#231f20"/>
<circle cx="636.9" cy="409.8" r="3.85" fill="#231f20"/>
<circle cx="636.9" cy="413.8" r="3.85" fill="#231f20"/>
<circle cx="636.9" cy="417.8" r="3.85" fill="#231f20"/>
<circle cx="636.9" cy="438.7" r="3.85" fill="#231f20"/>
<circle cx="636.9" cy="453.1" r="3.85" fill="#231f20"/>
<circle cx="636.9" cy="459.8" r="3.85" fill="#231f20"/>
<circle cx="636.9" cy="472.1" r="3.85" fill="#231f20"/>
<circle cx="636.9" cy="483.2" r="3.85" fill="#231f20"/>
<circle cx="636.9" cy="488.5" r="3.85" fill="#231f20"/>
<circle cx="722.5" cy="383.8" r="3.85" fill="#231f20"/>
<circle cx="722.5" cy="434.7" r="3.85" fill="#231f20"/>
<circle cx="722.5" cy="439.2" r="3.85" fill="#231f20"/>
<circle cx="722.5" cy="443.7" r="3.85" fill="#231f20"/>
<circle cx="722.5" cy="448" r="3.85" fill="#231f20"/>
<circle cx="722.5" cy="455.8" r="3.85" fill="#231f20"/>
<circle cx="722.5" cy="470.5" r="3.85" fill="#231f20"/>
<circle cx="722.5" cy="474" r="3.85" fill="#231f20"/>
<circle cx="722.5" cy="486" r="3.85" fill="#231f20"/>
<text font-size="19" text-anchor="start" transform="translate(393.5 632.8) scale(1.0 1)">f</text>
<line x1="455.25" y1="647.2" x2="455.25" y2="860.3" stroke="#231f20" stroke-width="2.9" stroke-linecap="butt"/>
<line x1="451.9" y1="648.2" x2="455.25" y2="648.2" stroke="#231f20" stroke-width="1.6" stroke-linecap="butt"/>
<text font-size="15.3" text-anchor="end" transform="translate(445 653.8) scale(0.93 1)">200</text>
<line x1="451.9" y1="701.03" x2="455.25" y2="701.03" stroke="#231f20" stroke-width="1.6" stroke-linecap="butt"/>
<text font-size="15.3" text-anchor="end" transform="translate(445 706.63) scale(0.93 1)">150</text>
<line x1="451.9" y1="753.85" x2="455.25" y2="753.85" stroke="#231f20" stroke-width="1.6" stroke-linecap="butt"/>
<text font-size="15.3" text-anchor="end" transform="translate(445 759.45) scale(0.93 1)">100</text>
<line x1="451.9" y1="806.67" x2="455.25" y2="806.67" stroke="#231f20" stroke-width="1.6" stroke-linecap="butt"/>
<text font-size="15.3" text-anchor="end" transform="translate(445 812.27) scale(0.93 1)">50</text>
<line x1="451.9" y1="859.5" x2="455.25" y2="859.5" stroke="#231f20" stroke-width="1.6" stroke-linecap="butt"/>
<text font-size="15.3" text-anchor="end" transform="translate(445 865.1) scale(0.93 1)">0</text>
<line x1="454.1" y1="864.5" x2="749.3" y2="864.5" stroke="#231f20" stroke-width="2.8" stroke-linecap="butt"/>
<line x1="536" y1="864.5" x2="536" y2="867.55" stroke="#231f20" stroke-width="2" stroke-linecap="butt"/>
<line x1="621.2" y1="864.5" x2="621.2" y2="867.55" stroke="#231f20" stroke-width="2" stroke-linecap="butt"/>
<line x1="705.7" y1="864.5" x2="705.7" y2="867.55" stroke="#231f20" stroke-width="2" stroke-linecap="butt"/>
<text font-size="17" text-anchor="middle" transform="translate(411.4 753.5) rotate(-90) scale(1.0 1)">Center visit latency (sec)</text>
<text font-size="15" text-anchor="middle" transform="translate(536.3 889) scale(0.965 1)">VEH</text>
<text font-size="15" text-anchor="middle" transform="translate(621.8 889) scale(1.0 1)" letter-spacing="0.3">A 0.5</text>
<text font-size="15" text-anchor="middle" transform="translate(706.6 889) scale(1.0 1)" letter-spacing="0.3">A 5</text>
<rect x="510.95" y="835.7" width="50.6" height="23.5" fill="#fff" stroke="#231f20" stroke-width="2.8"/>
<rect x="595.7" y="821.8" width="50.7" height="37.4" fill="#c7c8ca" stroke="#231f20" stroke-width="2.8"/>
<rect x="680.3" y="805.4" width="51.2" height="53.8" fill="#c7c8ca"/>
<path d="M677.9 811.48L733.9 755.48M677.9 820.67L733.9 764.67M677.9 829.86L733.9 773.86M677.9 839.05L733.9 783.05M677.9 848.24L733.9 792.24M677.9 857.43L733.9 801.43M677.9 866.62L733.9 810.62M677.9 875.81L733.9 819.81M677.9 885L733.9 829M677.9 894.19L733.9 838.19M677.9 903.38L733.9 847.38M677.9 912.57L733.9 856.57" stroke="#231f20" stroke-width="2.6" fill="none" clip-path="url(#k9)"/>
<rect x="680.3" y="805.4" width="51.2" height="53.8" fill="none" stroke="#231f20" stroke-width="2.8"/>
<line x1="536" y1="830" x2="536" y2="835.5" stroke="#231f20" stroke-width="2" stroke-linecap="butt"/>
<line x1="531.8" y1="830" x2="540.2" y2="830" stroke="#231f20" stroke-width="2" stroke-linecap="butt"/>
<line x1="621.2" y1="813" x2="621.2" y2="821.6" stroke="#231f20" stroke-width="2" stroke-linecap="butt"/>
<line x1="617" y1="813" x2="625.4" y2="813" stroke="#231f20" stroke-width="2" stroke-linecap="butt"/>
<line x1="705.7" y1="785.8" x2="705.7" y2="805.2" stroke="#231f20" stroke-width="2" stroke-linecap="butt"/>
<line x1="701.5" y1="785.8" x2="709.9" y2="785.8" stroke="#231f20" stroke-width="2" stroke-linecap="butt"/>
<circle cx="553.15" cy="778.05" r="3.85" fill="#231f20"/>
<circle cx="553.15" cy="826.55" r="3.85" fill="#231f20"/>
<circle cx="553.15" cy="833.55" r="3.85" fill="#231f20"/>
<circle cx="553.15" cy="837.3" r="3.85" fill="#231f20"/>
<circle cx="553.15" cy="841.05" r="3.85" fill="#231f20"/>
<circle cx="553.15" cy="846.05" r="3.85" fill="#231f20"/>
<circle cx="553.15" cy="849.8" r="3.85" fill="#231f20"/>
<circle cx="553.15" cy="853.55" r="3.85" fill="#231f20"/>
<circle cx="637.9" cy="758.4" r="3.85" fill="#231f20"/>
<circle cx="637.9" cy="764.1" r="3.85" fill="#231f20"/>
<circle cx="637.9" cy="805.1" r="3.85" fill="#231f20"/>
<circle cx="637.9" cy="820.3" r="3.85" fill="#231f20"/>
<circle cx="637.9" cy="832.9" r="3.85" fill="#231f20"/>
<circle cx="637.9" cy="838.1" r="3.85" fill="#231f20"/>
<circle cx="637.9" cy="842.9" r="3.85" fill="#231f20"/>
<circle cx="637.9" cy="847.2" r="3.85" fill="#231f20"/>
<circle cx="637.9" cy="851" r="3.85" fill="#231f20"/>
<circle cx="723" cy="671" r="3.85" fill="#231f20"/>
<circle cx="723" cy="707.7" r="3.85" fill="#231f20"/>
<circle cx="723" cy="806" r="3.85" fill="#231f20"/>
<circle cx="723" cy="810" r="3.85" fill="#231f20"/>
<circle cx="723" cy="822.3" r="3.85" fill="#231f20"/>
<circle cx="723" cy="828.6" r="3.85" fill="#231f20"/>
<circle cx="723" cy="844.4" r="3.85" fill="#231f20"/>
<circle cx="723" cy="858.1" r="3.85" fill="#231f20"/>
</svg>
</body>
</html>
